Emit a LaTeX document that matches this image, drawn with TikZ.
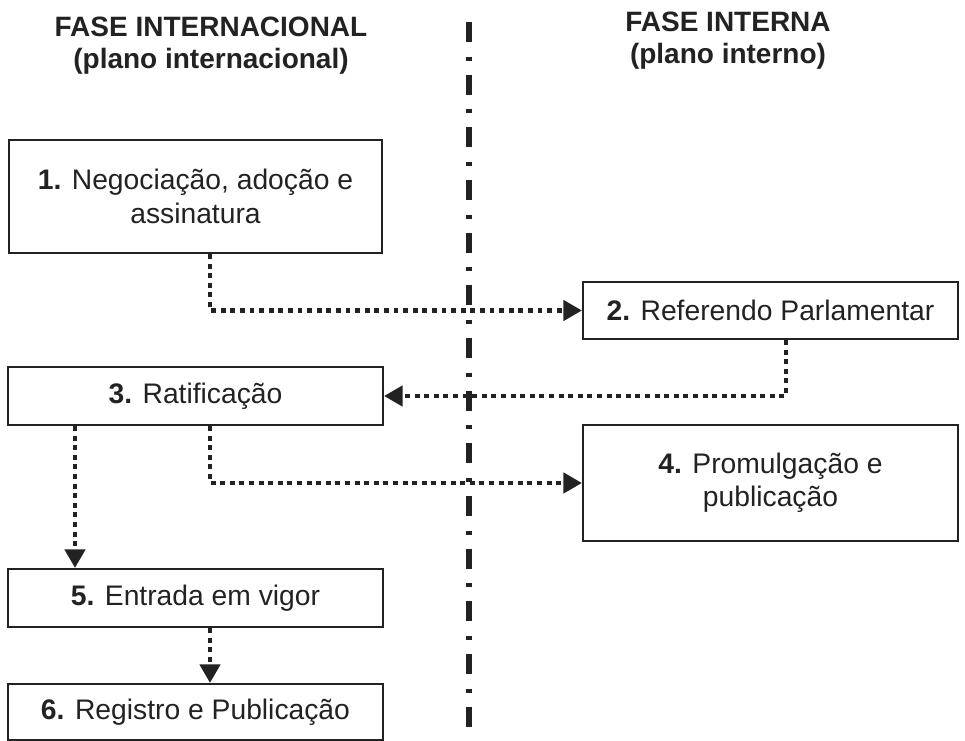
\documentclass[tikz,border=0pt]{standalone}
\usepackage{fontspec}
\setmainfont{Liberation Sans}
\usetikzlibrary{arrows.meta,calc}
\definecolor{ink}{HTML}{222222}
\tikzset{
  box/.style={draw=ink, line width=1.5pt, rectangle, inner sep=0pt, align=center, text=ink,
    font=\fontsize{21.2}{25}\selectfont},
  head/.style={align=center, text=ink, font=\fontsize{21}{24}\selectfont\bfseries},
  conn/.style={draw=ink, line width=3.5pt, line cap=butt, dash pattern=on 3.7pt off 3.5pt,
    -{Triangle[length=14pt,width=15pt]}},
  axis/.style={draw=ink, line width=3.8pt, dash pattern=on 15pt off 11pt on 3pt off 10.5pt}
}
\begin{document}
\begin{tikzpicture}[x=0.75pt,y=-0.75pt]
\useasboundingbox (0,0) rectangle (965,741);
\node[head] (h1) at (211,46) {FASE INTERNACIONAL\\(plano internacional)};
\node[head] (h2) at (728,41) {FASE INTERNA\\(plano interno)};
\coordinate (top) at (469,22);
\coordinate (bot) at (469,734);
\draw[axis] (top) -- (bot);
\node[box, minimum width=279.75pt, minimum height=84.75pt] (n1) at (195.5,196.5) {\textbf{1.} Negociação, adoção e\\assinatura};
\node[box, minimum width=281.25pt, minimum height=42.75pt] (n2) at (770.5,310.5) {\textbf{2.} Referendo Parlamentar};
\node[box, minimum width=281.25pt, minimum height=43.5pt] (n3) at (195.5,396) {\textbf{3.} Ratificação};
\node[box, minimum width=281.25pt, minimum height=87pt] (n4) at (770.5,483) {\textbf{4.} Promulgação e\\publicação};
\node[box, minimum width=281.25pt, minimum height=43.5pt] (n5) at (195.5,598) {\textbf{5.} Entrada em vigor};
\node[box, minimum width=281.25pt, minimum height=42pt] (n6) at (195.5,712) {\textbf{6.} Registro e Publicação};
\coordinate (xa) at (210,0);
\coordinate (xb) at (786,0);
\coordinate (xc) at (75,0);
\draw[conn] (xa |- n1.south) |- (n2.west);
\draw[conn] (xb |- n2.south) |- (n3.east);
\draw[conn] (xa |- n3.south) |- (n4.west);
\draw[conn] (xc |- n3.south) -- (xc |- n5.north);
\draw[conn] (xa |- n5.south) -- (xa |- n6.north);
\end{tikzpicture}
\end{document}
